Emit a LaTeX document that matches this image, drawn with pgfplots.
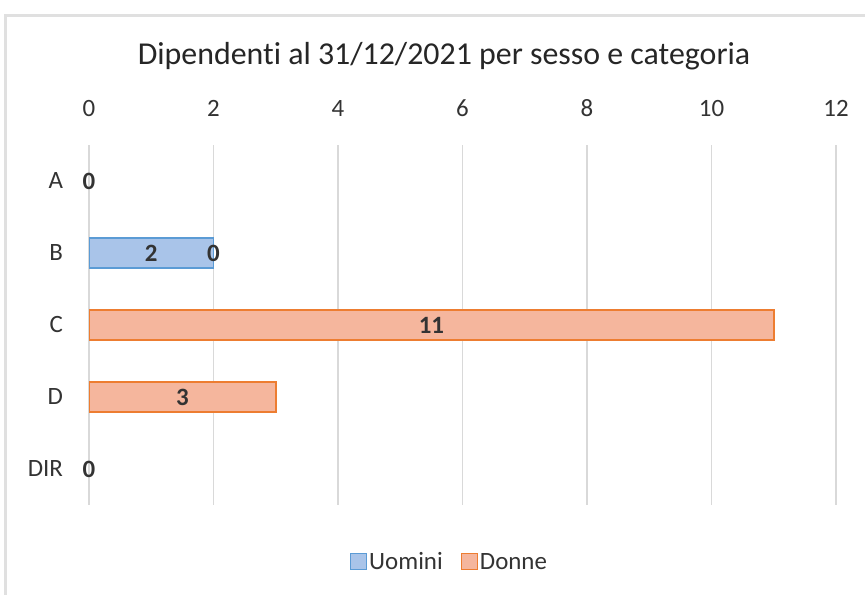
\documentclass[border=0pt]{standalone}
\usepackage{pgfplots}
\pgfplotsset{compat=1.18}
\usepackage{fontspec}
\setmainfont{Carlito}[Ligatures=CommonOff]
\definecolor{ublue}{HTML}{A9C4E9}
\definecolor{ubluedark}{HTML}{5B9BD5}
\definecolor{dor}{HTML}{F5B69D}
\definecolor{dordark}{HTML}{ED7D31}
\begin{document}
\begin{tikzpicture}[x=1bp,y=1bp]
\useasboundingbox (0,0) rectangle (865,595);
\fill[white] (0,0) rectangle (865,595);
\draw[black!12, line width=3bp] (5,0) -- (5,579) -- (865,579);
\begin{axis}[at={(89bp,90bp)}, anchor=south west, scale only axis,
 width=747bp, height=360bp,
 xmin=0, xmax=12, ymin=-0.5, ymax=4.5,
 xtick={0,2,...,12}, ytick={0,...,4}, yticklabels={DIR,D,C,B,A},
 xticklabel pos=upper, axis line style={draw=none}, major tick length=0pt,
 xmajorgrids, grid style={black!15, line width=1.5bp},
 /pgf/number format/assume math mode=true,
 tick label style={font=\fontsize{25}{30}\selectfont, text=black!80},
 xticklabel style={anchor=south, yshift=25bp},
 yticklabel style={anchor=east, xshift=-22.5bp},
 legend columns=2,
 legend style={draw=none, at={(0.4826,-0.158)}, anchor=center,
   font=\fontsize{25}{30}\selectfont, text=black!80,
   /tikz/every even column/.append style={column sep=16bp}},
 legend image code/.code={\draw[#1, line width=1.2bp] (0bp,-8bp) rectangle (16bp,8bp);},
 every node near coord/.append style={anchor=center, font=\bfseries\fontsize{25}{30}\selectfont, text=black!80},
]
\addplot[xbar, bar width=30bp, bar shift=0pt, fill=ublue, draw=ubluedark, line width=1.5bp]
 coordinates {(2,3)};
\addlegendentry{Uomini}
\addplot[xbar, bar width=30bp, bar shift=0pt, fill=dor, draw=dordark, line width=1.5bp]
 coordinates {(11,2) (3,1)};
\addlegendentry{Donne}
\addplot[draw=none, mark=none, forget plot, nodes near coords, point meta=explicit symbolic]
 coordinates {(0,4)[0] (1,3)[2] (2,3)[0] (5.5,2)[11] (1.5,1)[3] (0,0)[0]};
\end{axis}
\node[font=\fontsize{32}{38}\selectfont, text=black!85] at (444,539) {Dipendenti al 31/12/2021 per sesso e categoria};
\end{tikzpicture}
\end{document}
